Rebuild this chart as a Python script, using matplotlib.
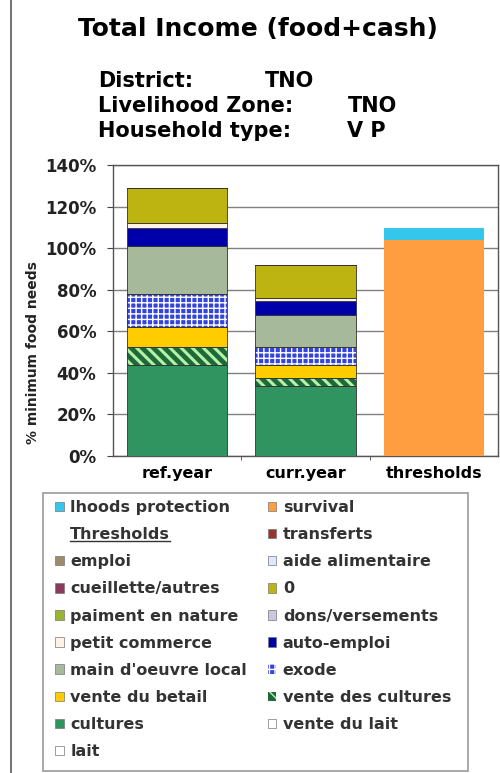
import matplotlib
matplotlib.use("Agg")
import matplotlib.pyplot as plt
import matplotlib.ticker as mtick
from matplotlib.patches import Patch, Rectangle
from matplotlib.lines import Line2D

plt.rcParams['font.family'] = ['DejaVu Sans']
plt.rcParams['hatch.linewidth'] = 1.6

categories = ['ref.year', 'curr.year', 'thresholds']

# values in % of minimum food needs, stack order bottom -> top
lait = [0, 0, 0]
vente_du_lait = [0, 0, 0]
cultures = [44, 33.5, 0]
vente_des_cultures = [8.5, 4, 0]
vente_du_betail = [9.5, 6.5, 0]
exode = [16, 8.5, 0]
main_oeuvre_local = [23, 15.5, 0]
auto_emploi = [8.5, 6.5, 0]
petit_commerce = [2.5, 1.5, 0]
dons_versements = [0, 0, 0]
paiment_en_nature = [0, 0, 0]
zero = [17, 16, 0]
cueillette_autres = [0, 0, 0]
aide_alimentaire = [0, 0, 0]
emploi = [0, 0, 0]
transferts = [0, 0, 0]
survival = [0, 0, 104]
lhoods_protection = [0, 0, 5.5]

# (label, values, face, hatch colour, hatch, hatch lw, edge)
series = [
    ('lait', lait, '#ffffff', None, None, 0, '#333333'),
    ('vente du lait', vente_du_lait, '#ffffff', None, None, 0, '#333333'),
    ('cultures', cultures, '#2f9460', None, None, 0, '#333333'),
    ('vente des cultures', vente_des_cultures, '#1c6a3a', '#b8f0a8', '\\\\\\', 2.2, '#333333'),
    ('vente du betail', vente_du_betail, '#ffcc00', None, None, 0, '#333333'),
    ('exode', exode, '#3344dd', '#ffffff', '+++', 1.0, '#333333'),
    ("main d'oeuvre local", main_oeuvre_local, '#a6b99a', None, None, 0, '#333333'),
    ('auto-emploi', auto_emploi, '#0000aa', None, None, 0, '#333333'),
    ('petit commerce', petit_commerce, '#fff2e6', None, None, 0, '#333333'),
    ('dons/versements', dons_versements, '#c8c8e0', None, None, 0, '#333333'),
    ('paiment en nature', paiment_en_nature, '#99b333', None, None, 0, '#333333'),
    ('0', zero, '#bdb311', None, None, 0, '#333333'),
    ('cueillette/autres', cueillette_autres, '#8a3a5a', None, None, 0, '#333333'),
    ('aide alimentaire', aide_alimentaire, '#dde8ff', None, None, 0, '#333333'),
    ('emploi', emploi, '#9c8a6a', None, None, 0, '#333333'),
    ('transferts', transferts, '#993333', None, None, 0, '#333333'),
    ('survival', survival, '#ff9e40', None, None, 0, 'none'),
    ('lhoods protection', lhoods_protection, '#35c6ec', None, None, 0, 'none'),
]

fig = plt.figure(figsize=(5, 7.73), dpi=100)
ax = fig.add_axes([113/500, 1 - 456/773, 385/500, 291/773])

x = list(range(len(categories)))
bottom = [0, 0, 0]
handles = {}
for label, vals, face, hcol, hatch, hlw, edge in series:
    if hatch:
        plt.rcParams['hatch.linewidth'] = hlw
        ax.bar(x, vals, 0.78, bottom=bottom, color=face, edgecolor=hcol,
               hatch=hatch, linewidth=0, zorder=3)
        ax.bar(x, vals, 0.78, bottom=bottom, fill=False, edgecolor=edge,
               linewidth=0.6, zorder=4)
        handles[label] = Patch(facecolor=face, edgecolor=hcol, hatch=hatch, linewidth=0)
    else:
        ax.bar(x, vals, 0.78, bottom=bottom, color=face, edgecolor=edge,
               linewidth=0.6, zorder=3)
        handles[label] = Patch(facecolor=face, edgecolor='#777777', linewidth=0.5)
    bottom = [b + v for b, v in zip(bottom, vals)]
handles['Thresholds'] = Patch(facecolor='none', edgecolor='none')

ax.set_xlim(-0.5, 2.5)
ax.set_ylim(0, 140)
ax.set_yticks(range(0, 141, 20))
ax.yaxis.set_major_formatter(mtick.PercentFormatter(100, decimals=0))
ax.set_xticks(x)
ax.set_xticklabels(categories, fontsize=11.5, fontweight='bold')
ax.set_xticks([0.5, 1.5], minor=True)
ax.tick_params(axis='x', which='major', length=0, pad=7)
ax.tick_params(axis='x', which='minor', length=3, direction='out', color='#444444')
ax.tick_params(axis='y', length=4, direction='out', color='#444444', pad=8)
for t in ax.get_yticklabels():
    t.set_fontsize(12)
    t.set_fontweight('bold')
    t.set_color('#222222')
ax.grid(axis='y', color='#808080', linewidth=1, zorder=0)
ax.set_axisbelow(True)
for s in ax.spines.values():
    s.set_color('#555555')
    s.set_linewidth(1)

ax.set_ylabel('% minimum food needs', fontsize=10, fontweight='bold', color='#222222')
ax.yaxis.set_label_coords(-0.19, 0.354)

fig.text(258/500, 1 - 29/773, 'Total Income (food+cash)', fontsize=18,
         fontweight='bold', ha='center', va='center')
sub_rows = [('District:', 'TNO', 265, 87), ('Livelihood Zone:', 'TNO', 348, 112),
            ('Household type:', 'V P', 347, 137)]
for name, val, xv, yb in sub_rows:
    fig.text(98/500, 1 - yb/773, name, fontsize=15, fontweight='bold', va='baseline')
    fig.text(xv/500, 1 - yb/773, val, fontsize=15, fontweight='bold', va='baseline')

# left border of chart area
fig.add_artist(Line2D([11/500, 11/500], [0, 1], transform=fig.transFigure,
                      color='#777777', linewidth=1.5))

# legend frame
fig.add_artist(Rectangle((43/500, 1 - 771/773), 425/500, 278/773,
                         transform=fig.transFigure, facecolor='white',
                         edgecolor='#999999', linewidth=1.2, zorder=0))

col1 = ['lhoods protection', 'Thresholds', 'emploi', 'cueillette/autres',
        'paiment en nature', 'petit commerce', "main d'oeuvre local",
        'vente du betail', 'cultures', 'lait']
col2 = ['survival', 'transferts', 'aide alimentaire', '0', 'dons/versements',
        'auto-emploi', 'exode', 'vente des cultures', 'vente du lait']
order = col1 + col2
leg = fig.legend([handles[k] for k in order], order, loc='upper left',
                 bbox_to_anchor=(55/500, 1 - 500/773),
                 ncol=2, prop={'weight': 'bold', 'size': 11.5},
                 frameon=False, borderaxespad=0, borderpad=0, labelspacing=0.76,
                 handlelength=0.55, handleheight=0.55, handletextpad=0.4,
                 columnspacing=1.3)
for t in leg.get_texts():
    t.set_color('#333333')

fig.canvas.draw()
for t in leg.get_texts():
    if t.get_text() == 'Thresholds':
        bb = t.get_window_extent()
        inv = fig.transFigure.inverted()
        p0 = inv.transform((bb.x0, bb.y0 + 1))
        p1 = inv.transform((bb.x1, bb.y0 + 1))
        fig.add_artist(Line2D([p0[0], p1[0]], [p0[1], p1[1]], transform=fig.transFigure,
                              color='#333333', linewidth=1))

fig.savefig('out.png', dpi=100)
